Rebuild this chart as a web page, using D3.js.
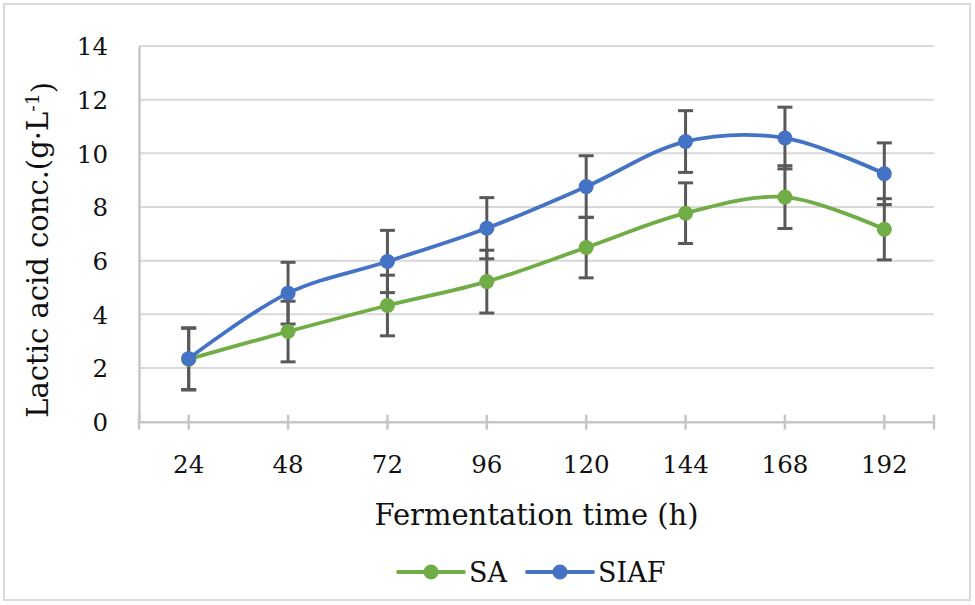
<!DOCTYPE html>
<html>
<head>
<meta charset="utf-8">
<script src="https://cdn.jsdelivr.net/npm/d3@7"></script>
<style>
  html, body { margin: 0; padding: 0; background: #fff; }
  svg { display: block; }
  text { font-family: "DejaVu Serif", serif; fill: #111; }
</style>
</head>
<body>
<svg id="chart" width="975" height="605"></svg>
<script>
// Fermentation time points (h)
const hours = ["24", "48", "72", "96", "120", "144", "168", "192"];
// Lactic acid concentration (g/L) per treatment
const saValues   = [2.33, 3.36, 4.33, 5.22, 6.49, 7.77, 8.37, 7.17];
const siafValues = [2.35, 4.79, 5.97, 7.21, 8.76, 10.44, 10.57, 9.24];
// Error bar half-widths (g/L)
const saErrors   = [1.15, 1.13, 1.13, 1.17, 1.13, 1.13, 1.17, 1.14];
const siafErrors = [1.15, 1.15, 1.16, 1.14, 1.15, 1.15, 1.15, 1.15];
const yTicks = [0, 2, 4, 6, 8, 10, 12, 14];
const seriesNames = ["SA", "SIAF"];

const colors = { SA: "#70ad47", SIAF: "#4472c4" };
const series = [
  { name: "SA",   values: saValues,   errors: saErrors },
  { name: "SIAF", values: siafValues, errors: siafErrors }
];

const svg = d3.select("#chart");

// Outer frame
svg.append("rect")
  .attr("x", 4).attr("y", 4).attr("width", 966).attr("height", 596)
  .attr("fill", "#fff").attr("stroke", "#d9d9d9").attr("stroke-width", 2);

const plot = { left: 139, right: 934, top: 46, bottom: 421.7 };

const x = d3.scaleBand().domain(hours).range([plot.left, plot.right]).paddingInner(0).paddingOuter(0);
const xc = d => x(d) + x.bandwidth() / 2;
const y = d3.scaleLinear().domain([0, 14]).range([plot.bottom, plot.top]);

// Horizontal gridlines
svg.append("g")
  .selectAll("line")
  .data(yTicks.filter(t => t > 0))
  .join("line")
  .attr("x1", plot.left).attr("x2", plot.right)
  .attr("y1", d => y(d)).attr("y2", d => y(d))
  .attr("stroke", "#d9d9d9").attr("stroke-width", 2);

// Y axis
const yAxis = svg.append("g")
  .attr("transform", `translate(${plot.left},0)`)
  .call(d3.axisLeft(y).tickValues(yTicks).tickSize(0).tickPadding(31).tickFormat(d3.format("d")));
yAxis.select(".domain").attr("stroke", "#c6c6c6").attr("stroke-width", 2.5);
yAxis.selectAll("text").style("font-size", "24.5px").attr("fill", "#111")
  .attr("font-family", "DejaVu Serif").attr("dy", "0.36em");

// X axis
const xAxis = svg.append("g")
  .attr("transform", `translate(0,${plot.bottom})`)
  .call(d3.axisBottom(x).tickSize(0).tickPadding(34));
xAxis.select(".domain").attr("stroke", "#c6c6c6").attr("stroke-width", 2.5);
xAxis.selectAll("text").style("font-size", "24.5px").attr("fill", "#111")
  .attr("font-family", "DejaVu Serif");
// Cross tick marks at category centres and at the axis ends
const tickXs = hours.map(xc).concat([plot.left, plot.right]);
svg.append("g")
  .selectAll("line")
  .data(tickXs)
  .join("line")
  .attr("x1", d => d).attr("x2", d => d)
  .attr("y1", plot.bottom - 7).attr("y2", plot.bottom + 8)
  .attr("stroke", "#c6c6c6").attr("stroke-width", 2.5);

// Error bars
const capW = 7.5;
series.forEach(s => {
  const g = svg.append("g").attr("stroke", "#595959").attr("stroke-width", 3).attr("fill", "none");
  s.values.forEach((v, i) => {
    const cx = xc(hours[i]);
    const top = y(v + s.errors[i]);
    const bot = y(v - s.errors[i]);
    g.append("line").attr("x1", cx).attr("x2", cx).attr("y1", top).attr("y2", bot);
    g.append("line").attr("x1", cx - capW).attr("x2", cx + capW).attr("y1", top).attr("y2", top);
    g.append("line").attr("x1", cx - capW).attr("x2", cx + capW).attr("y1", bot).attr("y2", bot);
  });
});

// Smoothed lines
const line = d3.line()
  .x((d, i) => xc(hours[i]))
  .y(d => y(d))
  .curve(d3.curveCatmullRom.alpha(0.5));

series.forEach(s => {
  svg.append("path")
    .datum(s.values)
    .attr("d", line)
    .attr("fill", "none")
    .attr("stroke", colors[s.name])
    .attr("stroke-width", 3.8)
    .attr("stroke-linecap", "round");
});

// Markers
series.forEach(s => {
  svg.append("g")
    .selectAll("circle")
    .data(s.values)
    .join("circle")
    .attr("cx", (d, i) => xc(hours[i]))
    .attr("cy", d => y(d))
    .attr("r", 7.5)
    .attr("fill", colors[s.name]);
});

// Axis titles
svg.append("text")
  .attr("x", (plot.left + plot.right) / 2)
  .attr("y", 525)
  .attr("text-anchor", "middle")
  .style("font-size", "29px")
  .text("Fermentation time (h)");

const yTitle = svg.append("text")
  .attr("transform", `translate(48,${(plot.top + plot.bottom) / 2 + 16}) rotate(-90)`)
  .attr("text-anchor", "middle")
  .style("font-size", "29px");
yTitle.append("tspan").text("Lactic acid conc.(g·L");
yTitle.append("tspan").attr("dy", "-0.45em").style("font-size", "19px").text("-1");
yTitle.append("tspan").attr("dy", "0.45em").text(")");

// Legend
const legendItems = [
  { name: seriesNames[0], x0: 398 },
  { name: seriesNames[1], x0: 527 }
];
const legendY = 572;
legendItems.forEach(it => {
  const g = svg.append("g");
  g.append("line")
    .attr("x1", it.x0).attr("x2", it.x0 + 66)
    .attr("y1", legendY).attr("y2", legendY)
    .attr("stroke", colors[it.name]).attr("stroke-width", 3.8).attr("stroke-linecap", "round");
  g.append("circle").attr("cx", it.x0 + 33).attr("cy", legendY).attr("r", 7.5).attr("fill", colors[it.name]);
  g.append("text")
    .attr("x", it.x0 + 71).attr("y", legendY)
    .attr("dy", "0.36em")
    .style("font-size", "27px")
    .text(it.name);
});
</script>
</body>
</html>
